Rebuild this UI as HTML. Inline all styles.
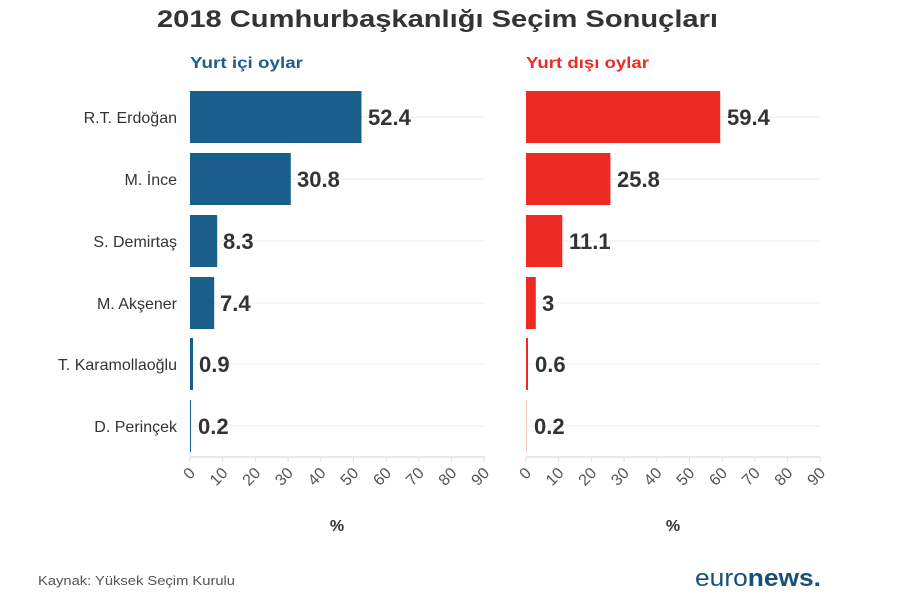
<!DOCTYPE html><html><head><meta charset="utf-8"><style>body{margin:0;background:#fff}svg{display:block;font-family:"Liberation Sans",sans-serif}</style></head><body>
<svg width="900" height="600" xmlns="http://www.w3.org/2000/svg">
<text x="157" y="27" font-size="24" font-weight="bold" fill="#333" textLength="561" lengthAdjust="spacingAndGlyphs">2018 Cumhurbaşkanlığı Seçim Sonuçları</text>
<text x="190" y="68" font-size="16" font-weight="bold" fill="#1a5f8c" textLength="113" lengthAdjust="spacingAndGlyphs">Yurt içi oylar</text>
<text x="526" y="68" font-size="16" font-weight="bold" fill="#ee2a24" textLength="123" lengthAdjust="spacingAndGlyphs">Yurt dışı oylar</text>
<g font-size="16" fill="#333" text-anchor="end">
<text x="177" y="123">R.T. Erdoğan</text><text x="177" y="185">M. İnce</text><text x="177" y="247">S. Demirtaş</text><text x="177" y="309">M. Akşener</text><text x="177" y="370">T. Karamollaoğlu</text><text x="177" y="432">D. Perinçek</text>
</g>
<g stroke="#ececec" stroke-width="1">
<line x1="190" y1="117" x2="485" y2="117"/><line x1="190" y1="179" x2="485" y2="179"/><line x1="190" y1="241" x2="485" y2="241"/><line x1="190" y1="303" x2="485" y2="303"/><line x1="190" y1="364" x2="485" y2="364"/><line x1="190" y1="426" x2="485" y2="426"/>
<line x1="526" y1="117" x2="820" y2="117"/><line x1="526" y1="179" x2="820" y2="179"/><line x1="526" y1="241" x2="820" y2="241"/><line x1="526" y1="303" x2="820" y2="303"/><line x1="526" y1="364" x2="820" y2="364"/><line x1="526" y1="426" x2="820" y2="426"/>
</g>
<g stroke="#e2e2e2" stroke-width="1.5">
<line x1="190" y1="457" x2="485" y2="457"/><line x1="526" y1="457" x2="820" y2="457"/>
</g>
<g fill="#1a5f8c">
<rect x="190" y="91" width="171.5" height="52"/><rect x="190" y="153" width="100.8" height="52"/><rect x="190" y="215" width="27.2" height="52"/><rect x="190" y="277" width="24.2" height="52"/><rect x="190" y="338" width="3" height="52"/><rect x="190" y="400" width="1" height="52"/>
</g>
<g fill="#ee2a24">
<rect x="526" y="91" width="194.2" height="52"/><rect x="526" y="153" width="84.4" height="52"/><rect x="526" y="215" width="36.3" height="52"/><rect x="526" y="277" width="9.8" height="52"/><rect x="526" y="338" width="2" height="52"/><rect x="526" y="400" width="1" height="52" fill="#f6c9c8"/>
</g>
<g font-size="22" font-weight="bold" fill="#333">
<text x="368" y="125">52.4</text><text x="297" y="187">30.8</text><text x="223" y="249">8.3</text><text x="220" y="311">7.4</text><text x="199" y="372">0.9</text><text x="198" y="434">0.2</text>
<text x="727" y="125">59.4</text><text x="617" y="187">25.8</text><text x="569" y="249">11.1</text><text x="542" y="311">3</text><text x="535" y="372">0.6</text><text x="534" y="434">0.2</text>
</g>
<g font-size="16" fill="#555" text-anchor="end">
<text transform="translate(196,474) rotate(-45)">0</text><text transform="translate(228.7,474) rotate(-45)">10</text><text transform="translate(261.4,474) rotate(-45)">20</text><text transform="translate(294.1,474) rotate(-45)">30</text><text transform="translate(326.8,474) rotate(-45)">40</text><text transform="translate(359.5,474) rotate(-45)">50</text><text transform="translate(392.2,474) rotate(-45)">60</text><text transform="translate(424.9,474) rotate(-45)">70</text><text transform="translate(457.6,474) rotate(-45)">80</text><text transform="translate(490.3,474) rotate(-45)">90</text>
<text transform="translate(532,474) rotate(-45)">0</text><text transform="translate(564.7,474) rotate(-45)">10</text><text transform="translate(597.4,474) rotate(-45)">20</text><text transform="translate(630.1,474) rotate(-45)">30</text><text transform="translate(662.8,474) rotate(-45)">40</text><text transform="translate(695.5,474) rotate(-45)">50</text><text transform="translate(728.2,474) rotate(-45)">60</text><text transform="translate(760.9,474) rotate(-45)">70</text><text transform="translate(793.6,474) rotate(-45)">80</text><text transform="translate(826.3,474) rotate(-45)">90</text>
</g>
<g stroke="#e2e2e2" stroke-width="1">
<path d="M190 457v5M222.7 457v5M255.4 457v5M288.1 457v5M320.8 457v5M353.5 457v5M386.2 457v5M418.9 457v5M451.6 457v5M484.3 457v5M526 457v5M558.7 457v5M591.4 457v5M624.1 457v5M656.8 457v5M689.5 457v5M722.2 457v5M754.9 457v5M787.6 457v5M820.3 457v5"/>
</g>
<text x="337" y="531" text-anchor="middle" font-size="16" font-weight="bold" fill="#333">%</text>
<text x="673" y="531" text-anchor="middle" font-size="16" font-weight="bold" fill="#333">%</text>
<text x="38" y="585" font-size="13" fill="#555" textLength="197" lengthAdjust="spacingAndGlyphs">Kaynak: Yüksek Seçim Kurulu</text>
<text x="695" y="586" font-size="24" fill="#1a4f7a" textLength="126" lengthAdjust="spacingAndGlyphs">euro<tspan font-weight="bold">news.</tspan></text>
</svg>
</body></html>
